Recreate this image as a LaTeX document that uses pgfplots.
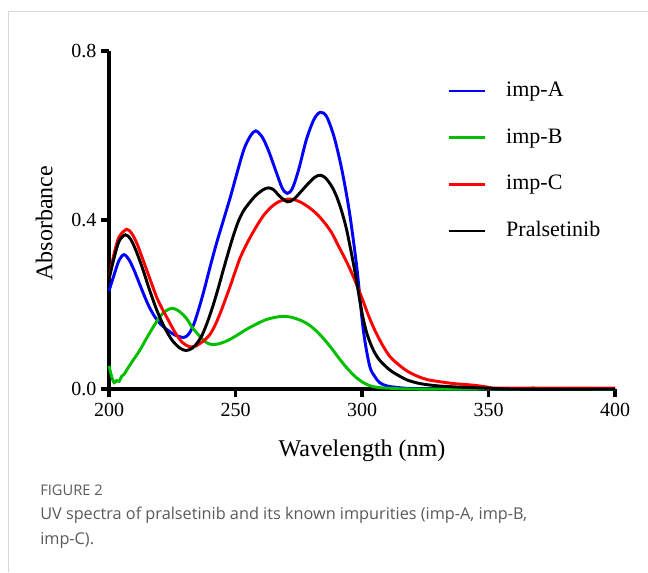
\documentclass[border=0pt]{standalone}
\usepackage{fontspec}
\setmainfont{Liberation Serif}
\newfontfamily\capfont{Open Sans}
\usepackage{pgfplots}
\pgfplotsset{compat=1.18}
\definecolor{impB}{RGB}{0,190,0}
\definecolor{capgray}{RGB}{90,90,90}
\definecolor{framegray}{RGB}{215,215,215}

\begin{document}
\begin{tikzpicture}
\path[use as bounding box] (0,0) rectangle (486pt,429pt);
\draw[framegray, line width=1.1pt] (486pt,420.2pt) -- (6.2pt,420.2pt) -- (6.2pt,0pt);

\begin{axis}[
    at={(81.75pt,137.25pt)}, anchor=south west,
    scale only axis, width=379.5pt, height=253.5pt,
    xmin=200, xmax=400, ymin=0, ymax=0.8,
    axis x line*=bottom, axis y line*=left,
    axis line style={line width=2.4pt, -},
    tick style={line width=2.4pt, black},
    tick align=outside, major tick length=6pt,
    xtick={200,250,300,350,400},
    ytick={0,0.4,0.8},
    yticklabels={0.0,0.4,0.8},
    /pgf/number format/assume math mode=true,
    tick label style={font=\fontsize{15}{18}\selectfont},
    xticklabel style={yshift=-1pt},
    xlabel={Wavelength (nm)}, ylabel={Absorbance},
    label style={font=\fontsize{18}{21}\selectfont},
    xlabel style={at={(axis description cs:0.5,-0.183)}, anchor=center},
    ylabel style={at={(axis description cs:-0.128,0.491)}, anchor=center, rotate=0},
    clip=false,
    legend cell align=left,
    legend image code/.code={\draw[#1] (0pt,0pt) -- (27pt,0pt);},
    legend style={at={(rel axis cs:0.668,0.914)}, anchor=north west,
        draw=none, fill=none, inner sep=0pt, row sep=19pt,
        font=\fontsize{16.5}{19}\selectfont,
        nodes={inner sep=0pt, text height=12pt, text depth=4pt},
        /tikz/every odd column/.append style={column sep=15pt}},
    every axis plot/.append style={line width=2.2pt, smooth, tension=0.5},
]
% imp-A
\addplot[blue] coordinates {
(200,0.232) (202,0.27) (204,0.305) (206,0.318) (208,0.305) (210,0.28)
(212,0.25) (214,0.22) (216,0.193) (218,0.172) (220,0.156) (223,0.14)
(226,0.128) (229.5,0.122) (231.5,0.13) (233.5,0.153) (235.5,0.19) (237.5,0.232)
(240,0.29) (242.5,0.345) (245,0.395) (248,0.455) (251,0.52) (253.5,0.57)
(256,0.6) (258,0.611) (260.5,0.597) (263,0.565) (266,0.515) (268.5,0.475)
(270.5,0.463) (272.5,0.475) (275,0.52) (278,0.59) (281,0.638) (283.5,0.655)
(286,0.645) (289,0.596) (292,0.52) (295,0.42) (298,0.285) (300.5,0.14)
(303,0.055) (305,0.03) (307,0.015) (310,0.007) (315,0.003) (320,0.001)
(330,0) (350,0) (400,0)
};
% imp-B
\addplot[impB] coordinates {
(200,0.055) (201,0.03) (202,0.015) (203,0.02) (204,0.018) (205,0.03)
(206,0.035) (207,0.045) (209.5,0.068) (212,0.09) (216,0.132) (220,0.17)
(222.5,0.185) (225,0.191) (227.5,0.185) (230.5,0.168) (233,0.145) (236,0.124)
(238.5,0.11) (241,0.105) (244,0.108) (247,0.115) (250,0.125) (254,0.14)
(258,0.153) (262,0.164) (266,0.17) (269,0.172) (272,0.17) (276,0.162)
(279,0.152) (282,0.137) (285,0.118) (288,0.096) (291,0.072) (294,0.05)
(297,0.031) (300,0.017) (303,0.008) (306,0.004) (310,0.002) (320,0)
(350,0) (366,0.001) (368,0.004) (370,0.001) (400,0)
};
% imp-C
\addplot[red] coordinates {
(200,0.26) (202,0.32) (204,0.36) (207,0.378) (209,0.368) (211,0.345)
(213,0.313) (215,0.28) (217,0.247) (219,0.215) (221,0.19) (223,0.168)
(226,0.135) (229,0.11) (232,0.1) (234.5,0.102) (236,0.108) (238,0.117)
(240,0.13) (242,0.152) (244,0.18) (246,0.212) (248,0.245) (250,0.28)
(252,0.313) (255,0.35) (258,0.382) (261,0.41) (264,0.43) (267,0.443)
(270,0.449) (272.5,0.449) (275.5,0.443) (279,0.43) (282,0.415) (285,0.395)
(288,0.37) (291,0.335) (294,0.3) (297,0.26) (300,0.215) (302.5,0.175)
(305,0.14) (308,0.105) (311,0.077) (314,0.06) (317.7,0.043) (322,0.03)
(326,0.022) (331,0.017) (336,0.013) (340,0.011) (344,0.009) (348,0.006)
(350,0.004) (352,0.002) (400,0.002)
};
% Pralsetinib
\addplot[black] coordinates {
(200,0.26) (202,0.31) (204,0.35) (206.5,0.365) (208.5,0.355) (210.5,0.33)
(213,0.29) (216,0.235) (219,0.185) (222,0.145) (225,0.115) (228,0.097)
(230.5,0.091) (233,0.097) (235,0.11) (237,0.13) (239,0.16) (241,0.195)
(243,0.235) (245,0.278) (247,0.32) (249,0.36) (251,0.395) (253,0.42)
(255,0.437) (258,0.458) (261,0.472) (263,0.476) (265,0.472) (267.5,0.456)
(270.5,0.443) (273,0.449) (276,0.468) (279,0.488) (281.5,0.502) (283.5,0.506)
(285.5,0.5) (288,0.48) (290,0.455) (292,0.42) (294,0.375) (296.5,0.3)
(298,0.25) (300,0.18) (302,0.13) (304.5,0.092) (307,0.068) (311,0.045)
(315,0.03) (318,0.021) (322,0.014) (326,0.01) (331,0.007) (340,0.004)
(350,0.002) (360,0) (400,0)
};
\legend{imp-A,imp-B,imp-C,Pralsetinib}
\end{axis}

\node[anchor=west, inner sep=0pt, capgray, font=\capfont\fontsize{11}{13}\selectfont] at (30pt,61.5pt) {FIGURE 2};
\node[anchor=west, inner sep=0pt, capgray, font=\capfont\fontsize{12.2}{15}\selectfont] at (30pt,42.75pt) {UV spectra of pralsetinib and its known impurities (imp-A, imp-B,};
\node[anchor=west, inner sep=0pt, capgray, font=\capfont\fontsize{12.2}{15}\selectfont] at (30pt,24pt) {imp-C).};
\end{tikzpicture}
\end{document}
